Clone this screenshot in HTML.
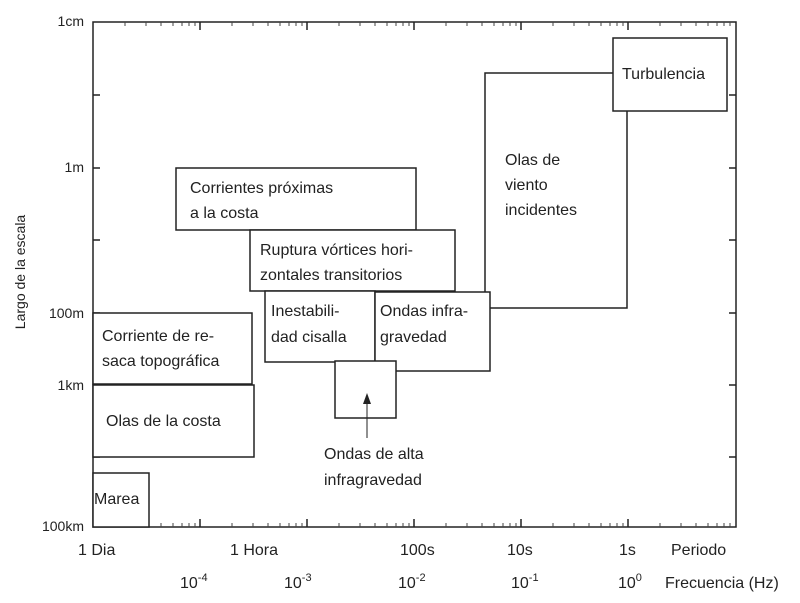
<!DOCTYPE html>
<html><head><meta charset="utf-8"><style>
html,body{margin:0;padding:0;background:#fff}
svg{display:block}
.b{font-family:"Liberation Sans Narrow","Liberation Sans",sans-serif;font-size:16px;fill:#222}
.a{font-family:"Liberation Sans",sans-serif;font-size:14px;fill:#222}
</style></head><body>
<svg width="800" height="603" viewBox="0 0 800 603" xmlns="http://www.w3.org/2000/svg">
<g fill="none" stroke="#222" stroke-width="1.5">
<rect x="93" y="22" width="643" height="505"/>
<path d="M200 527v-8M307 527v-8M414 527v-8M521 527v-8M628 527v-8M200 22v8M307 22v8M414 22v8M521 22v8M628 22v8"/>
<path d="M93 95h7M93 168h7M93 240h7M93 313h7M93 385h7M93 457h7M736 95h-7M736 168h-7M736 240h-7M736 313h-7M736 385h-7M736 457h-7"/>
</g>
<g fill="none" stroke="#444" stroke-width="1">
<path d="M125 527v-4M146 527v-4M161 527v-4M173 527v-4M182 527v-4M189 527v-4M195 527v-4M232 527v-4M253 527v-4M268 527v-4M280 527v-4M289 527v-4M296 527v-4M302 527v-4M339 527v-4M360 527v-4M375 527v-4M387 527v-4M396 527v-4M403 527v-4M409 527v-4M446 527v-4M467 527v-4M482 527v-4M494 527v-4M503 527v-4M510 527v-4M516 527v-4M553 527v-4M574 527v-4M589 527v-4M601 527v-4M610 527v-4M617 527v-4M623 527v-4M660 527v-4M681 527v-4M696 527v-4M708 527v-4M717 527v-4M724 527v-4M730 527v-4"/>
<path d="M125 22v4M146 22v4M161 22v4M173 22v4M182 22v4M189 22v4M195 22v4M232 22v4M253 22v4M268 22v4M280 22v4M289 22v4M296 22v4M302 22v4M339 22v4M360 22v4M375 22v4M387 22v4M396 22v4M403 22v4M409 22v4M446 22v4M467 22v4M482 22v4M494 22v4M503 22v4M510 22v4M516 22v4M553 22v4M574 22v4M589 22v4M601 22v4M610 22v4M617 22v4M623 22v4M660 22v4M681 22v4M696 22v4M708 22v4M717 22v4M724 22v4M730 22v4"/>
</g>
<g fill="#fff" stroke="#222" stroke-width="1.5">
<path d="M485 292V73H613M627 111V308H490" fill="none"/>
<rect x="613" y="38" width="114" height="73"/>
<rect x="176" y="168" width="240" height="62"/>
<rect x="250" y="230" width="205" height="61"/>
<rect x="265" y="291" width="110" height="71"/>
<rect x="375" y="292" width="115" height="79"/>
<rect x="335" y="361" width="61" height="57"/>
<rect x="93" y="313" width="159" height="71"/>
<rect x="93" y="385" width="161" height="72"/>
<rect x="93" y="473" width="56" height="54"/>
</g>
<path d="M367 438V402" stroke="#222" stroke-width="1"/>
<path d="M363 404L367 393L371 404Z" fill="#222"/>
<g class="b">
<text x="622" y="79">Turbulencia</text>
<text x="505" y="165">Olas de</text>
<text x="505" y="190">viento</text>
<text x="505" y="215">incidentes</text>
<text x="190" y="193">Corrientes próximas</text>
<text x="190" y="218">a la costa</text>
<text x="260" y="255">Ruptura vórtices hori-</text>
<text x="260" y="280">zontales transitorios</text>
<text x="271" y="316">Inestabili-</text>
<text x="271" y="342">dad cisalla</text>
<text x="380" y="316">Ondas infra-</text>
<text x="380" y="342">gravedad</text>
<text x="102" y="341">Corriente de re-</text>
<text x="102" y="366">saca topográfica</text>
<text x="106" y="426">Olas de la costa</text>
<text x="94" y="504">Marea</text>
<text x="324" y="459">Ondas de alta</text>
<text x="324" y="485">infragravedad</text>
<text x="78" y="555">1 Dia</text>
<text x="230" y="555">1 Hora</text>
<text x="400" y="555">100s</text>
<text x="507" y="555">10s</text>
<text x="619" y="555">1s</text>
<text x="671" y="555">Periodo</text>
<text x="180" y="588">10<tspan dy="-7" font-size="11">-4</tspan></text>
<text x="284" y="588">10<tspan dy="-7" font-size="11">-3</tspan></text>
<text x="398" y="588">10<tspan dy="-7" font-size="11">-2</tspan></text>
<text x="511" y="588">10<tspan dy="-7" font-size="11">-1</tspan></text>
<text x="618" y="588">10<tspan dy="-7" font-size="11">0</tspan></text>
<text x="665" y="588">Frecuencia (Hz)</text>
</g>
<g class="a" text-anchor="end">
<text x="84" y="26">1cm</text>
<text x="84" y="172">1m</text>
<text x="84" y="318">100m</text>
<text x="84" y="390">1km</text>
<text x="84" y="531">100km</text>
</g>
<text class="a" font-size="15" transform="translate(25,272) rotate(-90)" text-anchor="middle">Largo de la escala</text>
</svg>
</body></html>
